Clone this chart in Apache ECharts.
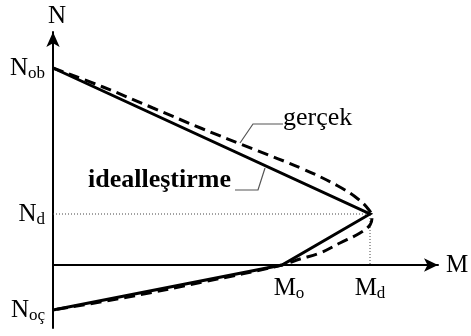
<!DOCTYPE html>
<html>
<head>
<meta charset="utf-8">
<script src="https://cdn.jsdelivr.net/npm/echarts@6/dist/echarts.min.js"></script>
<style>
  html, body { margin: 0; padding: 0; background: #fff; }
  #chart { width: 471px; height: 336px; }
</style>
</head>
<body>
<div id="chart"></div>
<script>
// idealized interaction diagram (M, N)
const idealPts = [[0, 197], [317, 51], [229, 0], [0, -45]]
const realPts = [
  [0, 197], [50, 178], [100, 157], [150, 136], [200, 116], [250, 96],
  [285, 79], [305, 66], [316, 55], [319, 48], [317, 40], [307, 32],
  [287, 22], [267, 12], [247, 6], [229, 0], [150, -17], [75, -32], [0, -45]
]
const guidePts = [[0, 51], [317, 51], [317, 0]]

const yTicks = [197, 51, -45]
const yTickLabels = ['{n|N}{s|ob}', '{n|N}{s|d}', '{n|N}{s|oç}']
const xTicks = [229, 317]
const xTickLabels = ['{p|}{n|M}{s|o}', '{n|M}{s|d}']

const FONT = "'Liberation Serif', 'Times New Roman', serif"
const rich = {
  n: { fontFamily: FONT, fontSize: 25, color: '#000', lineHeight: 30 },
  s: { fontFamily: FONT, fontSize: 17, color: '#000', lineHeight: 30, padding: [12, 0, 0, 0] },
  p: { width: 14 }
}

const chart = echarts.init(document.getElementById('chart'))

chart.setOption({
  animation: false,
  grid: { left: 53, right: 33, top: 32, bottom: 8, outerBoundsMode: 'none', containLabel: false },
  xAxis: {
    type: 'value', min: 0, max: 385,
    offset: -63,
    name: 'M', nameGap: 8,
    nameTextStyle: { fontFamily: FONT, fontSize: 25, color: '#000', padding: [12, 0, 0, 0] },
    axisLine: { onZero: false, lineStyle: { color: '#000', width: 2 }, symbol: ['none', 'arrow'], symbolSize: [10, 14] },
    axisTick: { show: false },
    splitLine: { show: false },
    axisLabel: {
      customValues: xTicks,
      margin: 8,
      formatter: (v) => xTickLabels[xTicks.indexOf(v)] || '',
      rich
    }
  },
  yAxis: {
    type: 'value', min: -63, max: 233,
    name: 'N', nameGap: 3,
    nameTextStyle: { fontFamily: FONT, fontSize: 25, color: '#000', padding: [0, 0, 0, 8] },
    axisLine: { onZero: false, lineStyle: { color: '#000', width: 2 }, symbol: ['none', 'arrow'], symbolSize: [10, 15] },
    axisTick: { show: false },
    splitLine: { show: false },
    axisLabel: {
      customValues: yTicks,
      margin: 8,
      formatter: (v) => yTickLabels[yTicks.indexOf(v)] || '',
      rich
    }
  },
  series: [
    {
      name: 'guide', type: 'line', data: guidePts, symbol: 'none', silent: true,
      lineStyle: { color: '#444', width: 1, type: [1, 2] }
    },
    {
      name: 'gerçek', type: 'line', data: realPts, symbol: 'none', smooth: 0.4,
      lineStyle: { color: '#000', width: 3, type: [11, 6] }
    },
    {
      name: 'idealleştirme', type: 'line', data: idealPts, symbol: 'none',
      lineStyle: { color: '#000', width: 3, join: 'miter' }
    }
  ],
  graphic: [
    { type: 'text', left: 283, top: 105, style: { text: 'gerçek', font: '26px ' + FONT, fill: '#000' } },
    { type: 'polyline', shape: { points: [[283, 124], [253, 124], [240, 143]] }, style: { stroke: '#555', lineWidth: 1.2, fill: null } },
    { type: 'text', left: 88, top: 167, style: { text: 'idealleştirme', font: 'bold 26px ' + FONT, fill: '#000' } },
    { type: 'polyline', shape: { points: [[235, 190], [258, 190], [265, 168]] }, style: { stroke: '#555', lineWidth: 1.2, fill: null } }
  ]
})
</script>
</body>
</html>
